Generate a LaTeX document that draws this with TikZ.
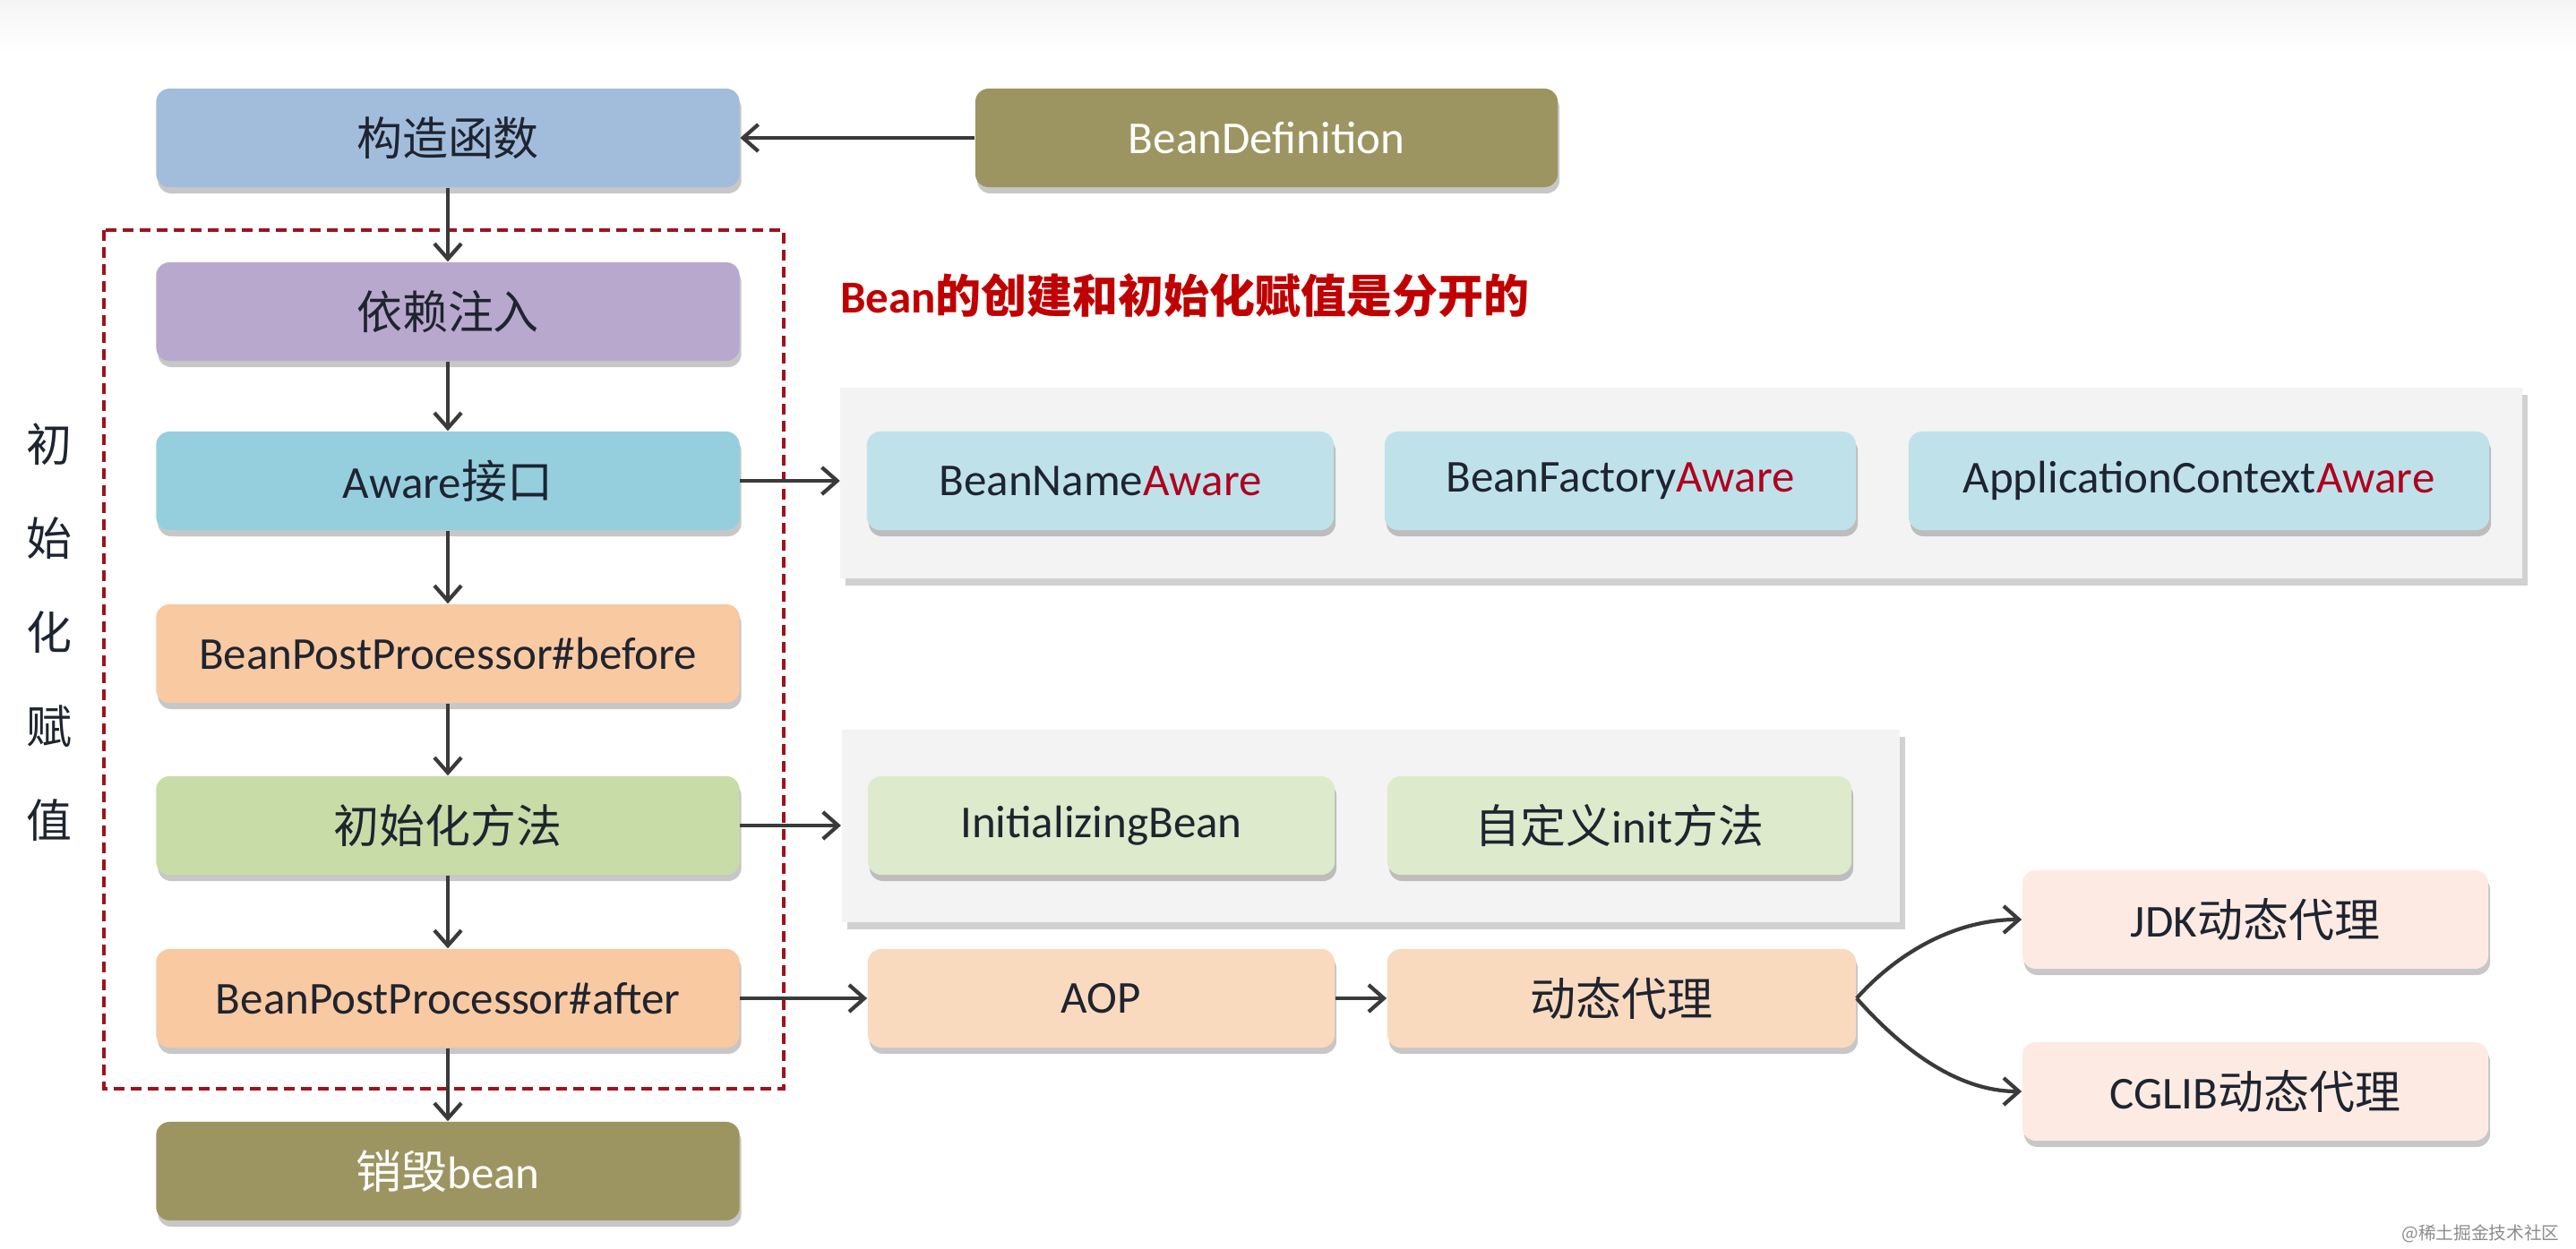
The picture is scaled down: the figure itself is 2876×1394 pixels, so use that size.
\documentclass[tikz,border=0pt]{standalone}
\usepackage{fontspec}
\setmainfont{Carlito}
\newfontfamily\cjk{Noto Sans CJK SC}
\usetikzlibrary{arrows.meta,shadows}
\definecolor{cBlue}{HTML}{A2BDDC}
\definecolor{cOlive}{HTML}{9C9561}
\definecolor{cLav}{HTML}{B9A8CD}
\definecolor{cCyan}{HTML}{95CFDE}
\definecolor{cPeach}{HTML}{F9C9A1}
\definecolor{cGreen}{HTML}{C8DCA7}
\definecolor{cAwSub}{HTML}{BFE2EA}
\definecolor{cInSub}{HTML}{DDEACB}
\definecolor{cAop}{HTML}{FADABF}
\definecolor{cPink}{HTML}{FDEBE3}
\definecolor{cPanel}{HTML}{F3F3F3}
\definecolor{cRed}{HTML}{C00000}
\definecolor{cAware}{HTML}{B0001E}
\definecolor{cDash}{HTML}{A0121E}
\definecolor{cArrow}{HTML}{3A3A3A}
\definecolor{cText}{HTML}{1E2430}
\begin{document}
\begin{tikzpicture}[x=0.01cm,y=-0.01cm,
  box/.style={rounded corners=0.15cm, minimum height=1.1cm, inner sep=0pt,
    align=center, font=\fontsize{14.5}{17}\selectfont, text=cText,
    drop shadow={shadow xshift=0.02cm, shadow yshift=-0.07cm, fill=black, opacity=0.22}},
  panel/.style={inner sep=0pt, fill=cPanel,
    drop shadow={shadow xshift=0.06cm, shadow yshift=-0.08cm, fill=black, opacity=0.18}},
  arr/.style={draw=cArrow, line width=1.2pt,
    -{Straight Barb[length=0.17cm, width=0.3cm, line width=1.2pt]}},
  aw/.style={text=cAware}]
\useasboundingbox (0,0) rectangle (2876,1394);
\fill[white] (0,0) rectangle (2876,1394);
\shade[top color=black!4, bottom color=white] (0,0) rectangle (2876,60);

% main chain
\node[box, fill=cBlue, minimum width=6.51cm] (c1) at (500,154) {\cjk 构造函数};
\node[box, fill=cOlive, minimum width=6.5cm, text=white] (bd) at (1414,154) {BeanDefinition};
\node[box, fill=cLav, minimum width=6.51cm] (c2) at (500,348) {\cjk 依赖注入};
\node[box, fill=cCyan, minimum width=6.51cm] (c3) at (500,537) {Aware{\cjk 接口}};
\node[box, fill=cPeach, minimum width=6.51cm] (c4) at (500,730) {BeanPostProcessor\#before};
\node[box, fill=cGreen, minimum width=6.51cm] (c5) at (500,922) {\cjk 初始化方法};
\node[box, fill=cPeach, minimum width=6.51cm] (c6) at (500,1115) {BeanPostProcessor\#after};
\node[box, fill=cOlive, minimum width=6.51cm, text=white] (c7) at (500,1308) {{\cjk 销毁}bean};

% dashed frame
\draw[cDash, line width=1.1pt, dash pattern=on 0.12cm off 0.07cm] (116,257) rectangle (875,1216);

% title and side label
\node[font=\fontsize{14.5}{17}\selectfont\bfseries, text=cRed] (title) at (1323,330)
  {Bean{\cjk\bfseries 的创建和初始化赋值是分开的}};
\node[font=\cjk\fontsize{14.5}{29.9}\selectfont, align=center, text=cText] (side) at (55,706)
  {初\\始\\化\\赋\\值};

% panel 1: Aware
\node[panel, minimum width=18.76cm, minimum height=2.13cm] (p1) at (1877,539.5) {};
\node[box, fill=cAwSub, minimum width=5.21cm] (a1) at (1228.5,537) {BeanName\textcolor{cAware}{Aware}};
\node[box, fill=cAwSub, minimum width=5.26cm] (a2) at (1809,537) {BeanFactory\textcolor{cAware}{Aware}};
\node[box, fill=cAwSub, minimum width=6.48cm] (a3) at (2455,537) {ApplicationContext\textcolor{cAware}{Aware}};

% panel 2: init
\node[panel, minimum width=11.81cm, minimum height=2.15cm] (p2) at (1530.5,922.5) {};
\node[box, fill=cInSub, minimum width=5.21cm] (i1) at (1229.5,922) {InitializingBean};
\node[box, fill=cInSub, minimum width=5.18cm] (i2) at (1808,922) {{\cjk 自定义}init{\cjk 方法}};

% AOP row
\node[box, fill=cAop, minimum width=5.21cm] (aop) at (1229.5,1115) {AOP};
\node[box, fill=cAop, minimum width=5.23cm] (dt) at (1810.5,1115) {\cjk 动态代理};
\node[box, fill=cPink, minimum width=5.2cm] (jdk) at (2518,1027) {JDK{\cjk 动态代理}};
\node[box, fill=cPink, minimum width=5.2cm] (cg) at (2518,1219) {CGLIB{\cjk 动态代理}};

% watermark
\node[font=\cjk\fontsize{5.6}{7}\selectfont, text=black!45, anchor=east] (wm) at (2870,1378) {@稀土掘金技术社区};

% connectors
\draw[arr] (bd.west) -- (c1.east);
\draw[arr] (c1.south) -- (c2.north);
\draw[arr] (c2.south) -- (c3.north);
\draw[arr] (c3.south) -- (c4.north);
\draw[arr] (c4.south) -- (c5.north);
\draw[arr] (c5.south) -- (c6.north);
\draw[arr] (c6.south) -- (c7.north);
\draw[arr] (c3.east) -- (p1.west |- c3.east);
\draw[arr] (c5.east) -- (p2.west |- c5.east);
\draw[arr] (c6.east) -- (aop.west);
\draw[arr] (aop.east) -- (dt.west);
\draw[arr] (dt.east) .. controls +(40,-45) and +(-80,0) .. (jdk.west);
\draw[arr] (dt.east) .. controls +(40,45) and +(-80,0) .. (cg.west);
\end{tikzpicture}
\end{document}
